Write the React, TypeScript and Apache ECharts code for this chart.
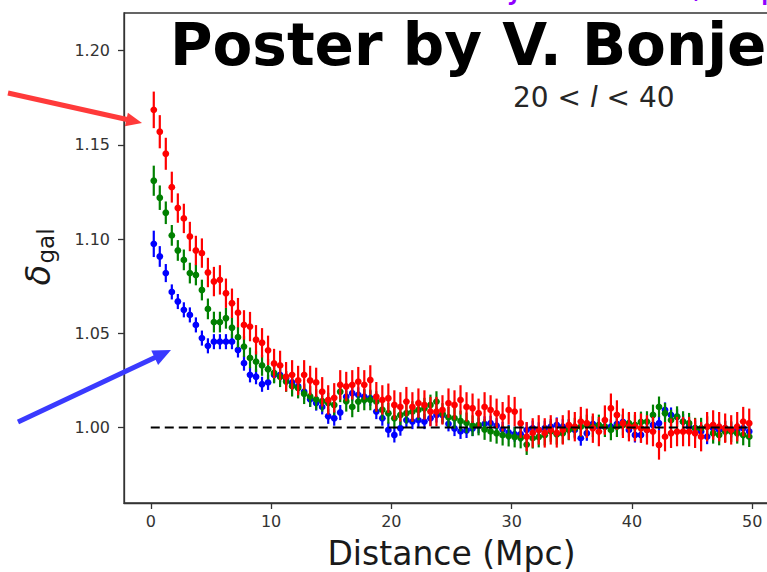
import React, { useEffect, useRef } from "react";
import * as echarts from "echarts";

// Bin centres (Mpc)
const distance: number[] = [
  0.25, 0.75, 1.25, 1.75, 2.25, 2.75, 3.25, 3.75, 4.25, 4.75,
  5.25, 5.75, 6.25, 6.75, 7.25, 7.75, 8.25, 8.75, 9.25, 9.75,
  10.25, 10.75, 11.25, 11.75, 12.25, 12.75, 13.25, 13.75, 14.25, 14.75,
  15.25, 15.75, 16.25, 16.75, 17.25, 17.75, 18.25, 18.75, 19.25, 19.75,
  20.25, 20.75, 21.25, 21.75, 22.25, 22.75, 23.25, 23.75, 24.25, 24.75,
  25.25, 25.75, 26.25, 26.75, 27.25, 27.75, 28.25, 28.75, 29.25, 29.75,
  30.25, 30.75, 31.25, 31.75, 32.25, 32.75, 33.25, 33.75, 34.25, 34.75,
  35.25, 35.75, 36.25, 36.75, 37.25, 37.75, 38.25, 38.75, 39.25, 39.75,
  40.25, 40.75, 41.25, 41.75, 42.25, 42.75, 43.25, 43.75, 44.25, 44.75,
  45.25, 45.75, 46.25, 46.75, 47.25, 47.75, 48.25, 48.75, 49.25, 49.75,
];

const redValues: number[] = [
  1.1686, 1.157, 1.1453, 1.1276, 1.1165, 1.111, 1.1014, 1.094, 1.0926, 1.0823,
  1.0775, 1.0784, 1.0713, 1.066, 1.061, 1.0545, 1.0536, 1.0466, 1.045, 1.041,
  1.034, 1.033, 1.027, 1.028, 1.025, 1.028, 1.025, 1.024, 1.019, 1.0147,
  1.0158, 1.0227, 1.0218, 1.0227, 1.0244, 1.0227, 1.0253, 1.0164, 1.0147, 1.0156,
  1.012, 1.011, 1.0138, 1.011, 1.013, 1.012, 1.0085, 1.0085, 1.0094, 1.013,
  1.012, 1.0147, 1.011, 1.0103, 1.0076, 1.011, 1.0094, 1.0076, 1.0058, 1.0094,
  1.0085, 1.0023, 0.9952, 0.9972, 0.9988, 0.9972, 0.9988, 0.9972, 0.9988, 1.0014,
  1.0005, 1.0032, 1.0023, 0.9997, 0.9979, 1.004, 1.0103, 1.0067, 1.0023, 1.0005,
  1.0005, 0.9997, 0.9988, 0.9979, 0.9908, 0.9952, 0.997, 0.9979, 0.9979, 0.9979,
  0.997, 0.9952, 1.0005, 1.0014, 1.0005, 0.9997, 0.9988, 1.0005, 1.0032, 1.0023,
];

const greenValues: number[] = [
  1.131, 1.122, 1.114, 1.102, 1.094, 1.089, 1.082, 1.081, 1.073, 1.063,
  1.056, 1.056, 1.058, 1.053, 1.048, 1.043, 1.037, 1.035, 1.033, 1.031,
  1.029, 1.027, 1.0245, 1.022, 1.021, 1.018, 1.0165, 1.015, 1.014, 1.013,
  1.012, 1.019, 1.014, 1.011, 1.0138, 1.0147, 1.0147, 1.0138, 1.0095, 1.0076,
  1.005, 1.0067, 1.0076, 1.0085, 1.0094, 1.0103, 1.012, 1.0138, 1.0075, 1.0055,
  1.005, 1.0035, 1.0025, 1.001, 1.0014, 0.999, 0.998, 0.997, 0.996, 0.9955,
  0.995, 0.9945, 0.991, 0.9944, 0.995, 0.996, 0.998, 0.9965, 0.997, 0.9988,
  0.9997, 1.0005, 1.0014, 1.0005, 1.0014, 1.0005, 0.9988, 1.0005, 1.0014, 1.0023,
  1.0014, 1.003, 1.0032, 1.0067, 1.011, 1.0076, 1.004, 1.0058, 1.0032, 1.0023,
  0.9997, 0.9997, 1.0005, 0.997, 0.9961, 0.9979, 0.9979, 0.997, 0.9961, 0.9952,
];

const blueValues: number[] = [
  1.0975, 1.0908, 1.082, 1.072, 1.0669, 1.0625, 1.0598, 1.0545, 1.0475, 1.0434,
  1.0456, 1.0456, 1.0456, 1.0456, 1.0412, 1.0342, 1.028, 1.027, 1.023, 1.024,
  1.028, 1.028, 1.026, 1.024, 1.022, 1.019, 1.015, 1.013, 1.011, 1.006,
  1.005, 1.008, 1.0164, 1.0182, 1.0174, 1.0164, 1.0156, 1.0085, 1.005, 0.9988,
  0.9961, 0.9997, 1.004, 1.0032, 1.004, 1.0032, 1.005, 1.0067, 1.0067, 1.002,
  0.9995, 0.998, 0.9985, 0.9995, 1.001, 1.002, 1.0023, 1.001, 0.999, 0.9975,
  0.9965, 0.9965, 0.9988, 0.9997, 0.9988, 0.9997, 1.0005, 1.0014, 1.0005, 1.0005,
  0.9988, 0.9944, 0.997, 1.002, 1.0005, 1.0005, 1.0005, 1.002, 1.003, 0.9988,
  0.9961, 0.9961, 0.9988, 1.0014, 1.0023, 1.0094, 1.0067, 1.0058, 1.0032, 1.0005,
  0.9997, 0.998, 0.9952, 0.9997, 0.9988, 0.9997, 0.9988, 0.9988, 0.9997, 0.998,
];

// 1-sigma errors: first bins listed, then the typical value for the rest
const redErrHead: number[] = [0.0097, 0.0088, 0.0085, 0.0082];
const redErrTail = 0.0078;
const greenErrHead: number[] = [0.008, 0.0065, 0.006];
const greenErrTail = 0.0055;
const blueErrHead: number[] = [0.007, 0.0055, 0.0048];
const blueErrTail = 0.004;

const xTicks: number[] = [0, 10, 20, 30, 40, 50];
const yTicks: number[] = [1.0, 1.05, 1.1, 1.15, 1.2];
const refLine: number[][] = [[0, 1.0], [50, 1.0]];

const FONT = "DejaVu Sans";

function errorBarSeries(
  name: string,
  ys: number[],
  head: number[],
  tail: number,
  color: string
) {
  const data = ys.map((y, i) => [distance[i], y, i < head.length ? head[i] : tail]);
  return {
    type: "custom",
    name,
    data,
    encode: { x: 0, y: 1 },
    renderItem: (_params: any, api: any) => {
      const x = api.value(0);
      const y = api.value(1);
      const e = api.value(2);
      const p = api.coord([x, y]);
      const top = api.coord([x, y + e]);
      const bot = api.coord([x, y - e]);
      return {
        type: "group",
        children: [
          {
            type: "line",
            shape: { x1: p[0], y1: top[1], x2: p[0], y2: bot[1] },
            style: { stroke: color, lineWidth: 2.2 },
          },
          {
            type: "circle",
            shape: { cx: p[0], cy: p[1], r: 3.4 },
            style: { fill: color },
          },
        ],
      };
    },
  };
}

export default function App() {
  const ref = useRef<HTMLDivElement>(null);

  useEffect(() => {
    if (!ref.current) return;
    const chart = echarts.init(ref.current, undefined, { renderer: "svg" });
    const axisColor = "#333";
    chart.setOption({
      animation: false,
      backgroundColor: "#ffffff",
      grid: {
        left: 124,
        top: 13,
        right: -12,
        bottom: 69,
        outerBoundsMode: "none",
        containLabel: false,
        show: true,
        borderColor: axisColor,
        borderWidth: 1.3,
        backgroundColor: "transparent",
      },
      xAxis: {
        type: "value",
        min: -2.225,
        max: 52.225,
        splitLine: { show: false },
        axisLine: { show: true, onZero: false, lineStyle: { color: axisColor, width: 1.3 } },
        axisTick: {
          show: true,
          customValues: xTicks,
          length: 6,
          lineStyle: { color: axisColor, width: 1.3 },
        },
        axisLabel: {
          customValues: xTicks,
          fontSize: 16,
          fontFamily: FONT,
          color: axisColor,
          margin: 10,
        },
        name: "Distance (Mpc)",
        nameLocation: "middle",
        nameGap: 34,
        nameTextStyle: { fontSize: 33, fontFamily: FONT, color: "#1a1a1a" },
      },
      yAxis: {
        type: "value",
        min: 0.96,
        max: 1.22,
        splitLine: { show: false },
        axisLine: { show: true, onZero: false, lineStyle: { color: axisColor, width: 1.3 } },
        axisTick: {
          show: true,
          customValues: yTicks,
          length: 6,
          lineStyle: { color: axisColor, width: 1.3 },
        },
        axisLabel: {
          customValues: yTicks,
          fontSize: 16,
          fontFamily: FONT,
          color: axisColor,
          margin: 14,
          formatter: (v: number) => v.toFixed(2),
        },
      },
      series: [
        {
          type: "line",
          data: refLine,
          symbol: "none",
          lineStyle: { color: "#000", width: 2, type: [9, 5] },
          silent: true,
        },
        errorBarSeries("blue", blueValues, blueErrHead, blueErrTail, "#0000ff"),
        errorBarSeries("green", greenValues, greenErrHead, greenErrTail, "#008000"),
        errorBarSeries("red", redValues, redErrHead, redErrTail, "#ff0000"),
      ],
      graphic: {
        elements: [
          {
            type: "text",
            x: 439,
            y: -16,
            style: {
              text: "Bonjean et al., in prep",
              fontSize: 36.5,
              fontFamily: FONT,
              fill: "#9000ff",
              align: "left",
              verticalAlign: "middle",
            },
          },
          {
            type: "text",
            x: 170,
            y: 45,
            z: 10,
            style: {
              text: "Poster by V. Bonje",
              fontSize: 58,
              fontWeight: "bold",
              fontFamily: FONT,
              fill: "#000",
              align: "left",
              verticalAlign: "middle",
            },
          },
          {
            type: "text",
            x: 513,
            y: 97,
            z: 10,
            style: {
              text: "20 < {it|l} < 40",
              fontSize: 28,
              fontFamily: FONT,
              fill: "#262626",
              align: "left",
              verticalAlign: "middle",
              rich: {
                it: { fontSize: 28, fontFamily: FONT, fontStyle: "italic", fill: "#262626" },
              },
            },
          },
          {
            type: "text",
            x: 38,
            y: 275,
            rotation: Math.PI / 2,
            style: {
              text: "δ",
              fontSize: 34,
              fontStyle: "italic",
              fontFamily: FONT,
              fill: "#1a1a1a",
              align: "center",
              verticalAlign: "middle",
            },
          },
          {
            type: "text",
            x: 46,
            y: 246,
            rotation: Math.PI / 2,
            style: {
              text: "gal",
              fontSize: 23,
              fontFamily: FONT,
              fill: "#1a1a1a",
              align: "center",
              verticalAlign: "middle",
            },
          },
          // red arrow
          {
            type: "line",
            z: 20,
            shape: { x1: 8, y1: 93, x2: 127, y2: 119.5 },
            style: { stroke: "#ff3a3a", lineWidth: 5 },
          },
          {
            type: "polygon",
            z: 20,
            shape: { points: [[142, 123], [127.9, 112.7], [124.9, 126.3]] },
            style: { fill: "#ff3a3a" },
          },
          // blue arrow
          {
            type: "line",
            z: 20,
            shape: { x1: 18, y1: 422, x2: 155.5, y2: 357.3 },
            style: { stroke: "#3a3aff", lineWidth: 5 },
          },
          {
            type: "polygon",
            z: 20,
            shape: { points: [[171, 350], [158.1, 364.9], [151.3, 350.5]] },
            style: { fill: "#3a3aff" },
          },
        ],
      },
    });
    return () => chart.dispose();
  }, []);

  return (
    <div
      ref={ref}
      style={{ position: "fixed", left: 0, top: 0, width: 767, height: 572 }}
    />
  );
}
